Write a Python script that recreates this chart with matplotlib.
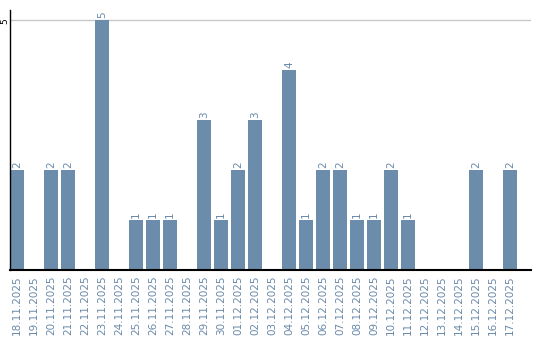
import matplotlib.pyplot as plt
import numpy as np

# Daten
dates = ['18.11.2025', '19.11.2025', '20.11.2025', '21.11.2025', '22.11.2025',
         '23.11.2025', '24.11.2025', '25.11.2025', '26.11.2025', '27.11.2025',
         '28.11.2025', '29.11.2025', '30.11.2025', '01.12.2025', '02.12.2025',
         '03.12.2025', '04.12.2025', '05.12.2025', '06.12.2025', '07.12.2025',
         '08.12.2025', '09.12.2025', '10.12.2025', '11.12.2025', '12.12.2025',
         '13.12.2025', '14.12.2025', '15.12.2025', '16.12.2025', '17.12.2025']
counts = [2, 0, 2, 2, 0, 5, 0, 1, 1, 1,
          0, 3, 1, 2, 3, 0, 4, 1, 2, 2,
          1, 1, 2, 1, 0, 0, 0, 2, 0, 2]

bar_color = '#6b8cab'
text_color = '#6a89a8'

fig = plt.figure(figsize=(5.4, 3.4), dpi=100, facecolor='white')
ax = fig.add_axes([10 / 540, 70 / 340, 521 / 540, 260 / 340])

x = np.arange(len(dates))
bw = 14 / 17
ax.bar(x, counts, width=bw, align='edge', color=bar_color, zorder=2)

# Werte über den Balken
for xi, c in zip(x, counts):
    if c > 0:
        ax.text(xi + bw / 2, c + 0.04, str(c), rotation=90, ha='center', va='bottom',
                fontsize=7.5, color=text_color)

ax.set_xlim(0, 521 / 17)
ax.set_ylim(0, 5.2)

# Gitterlinie bei 5
ax.axhline(5, color='#c8c8c8', linewidth=1, zorder=1)

ax.set_xticks(x + bw / 2)
ax.set_xticklabels(dates, rotation=90, fontsize=7.5, color=text_color)
ax.tick_params(axis='x', length=0, pad=4)

# Y-Achse: nur die 5, als Text links neben der Achse
ax.set_yticks([])
fig.text(5 / 540, 1 - 21 / 340, '5', rotation=90, ha='center', va='center',
         fontsize=6.5, color='black')

for s in ['top', 'right']:
    ax.spines[s].set_visible(False)
ax.spines['left'].set_linewidth(1)
ax.spines['bottom'].set_linewidth(1.5)

plt.savefig('out.png', dpi=100, facecolor='white')
plt.close()
